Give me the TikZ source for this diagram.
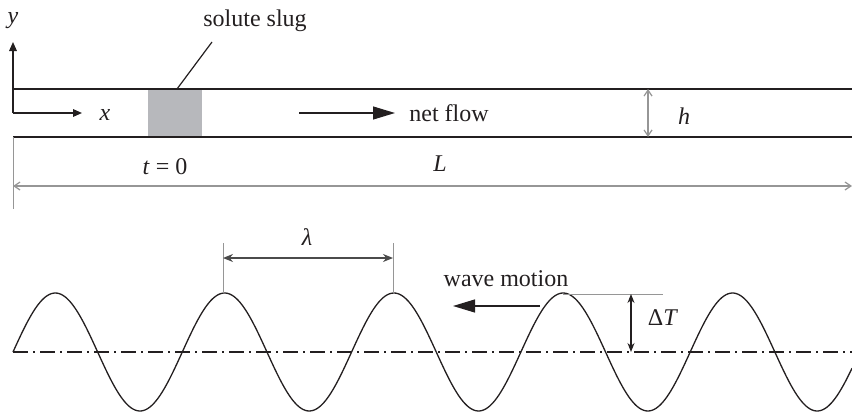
\documentclass[tikz,border=0pt]{standalone}
\usepackage{fontspec}
\setmainfont{Liberation Serif}
\usetikzlibrary{arrows.meta}
\definecolor{dimgray}{RGB}{150,150,150}
\definecolor{darkdim}{RGB}{75,75,75}
\definecolor{sluggray}{RGB}{183,184,188}
\definecolor{ink}{RGB}{35,31,32}
\begin{document}
\begin{tikzpicture}[x=0.5pt,y=-0.5pt,
  lbl/.style={font=\fontsize{12}{14}\selectfont, inner sep=0pt, text=ink},
  wall/.style={line width=1pt, draw=ink},
  axisarrow/.style={line width=0.65pt, draw=ink, -{Triangle[length=4.5pt,width=3.8pt]}},
  bigarrow/.style={line width=0.6pt, draw=ink, -{Triangle[length=11pt,width=6.5pt]}},
  dimline/.style={line width=0.5pt, draw=dimgray},
  dimarrow/.style={line width=0.6pt, draw=dimgray, {Straight Barb[length=3pt,width=4pt]}-{Straight Barb[length=3pt,width=4pt]}},
  lamarrow/.style={line width=0.6pt, draw=darkdim, {Stealth[length=5pt,width=4pt]}-{Stealth[length=5pt,width=4pt]}},
  amparrow/.style={line width=0.6pt, draw=ink, {Stealth[length=4.5pt,width=3.5pt]}-{Stealth[length=4.5pt,width=3.5pt]}},
  wave/.style={line width=0.65pt, draw=ink},
  centreline/.style={line width=0.65pt, draw=ink, dash pattern=on 7.5pt off 2.5pt on 1pt off 2.5pt},
]
\useasboundingbox (0,0) rectangle (852,412);

% ---------- channel ----------
\node[fill=sluggray, minimum width=27pt, minimum height=24pt, inner sep=0pt] (slug) at (175,113) {};
\coordinate (tl) at (13,89);
\coordinate (tr) at (852,89);
\coordinate (bl) at (13,137);
\coordinate (br) at (852,137);
\draw[wall] (tl) -- (tr);
\draw[wall] (bl) -- (br);

% axes
\coordinate (o) at (13,113);
\coordinate (ytip) at (13,42);
\coordinate (xtip) at (82,113);
\draw[axisarrow] (o) -- (ytip);
\draw[axisarrow] (o) -- (xtip);
\node[lbl] (ylab) at (13,21) {\textit{y}};
\node[lbl] (xlab) at (105,115) {\textit{x}};

% solute slug label
\node[lbl] (sluglab) at (255,21) {solute slug};
\coordinate (slugtop) at (177,89);
\coordinate (leadend) at (212,42);
\draw[line width=0.6pt, ink] (slugtop) -- (leadend);

% net flow
\coordinate (nf0) at (299,113);
\coordinate (nf1) at (395,113);
\draw[bigarrow] (nf0) -- (nf1);
\node[lbl] (nflab) at (449,113) {net flow};

% h
\coordinate (h0) at (648,89);
\coordinate (h1) at (648,137);
\draw[dimarrow] (h0) -- (h1);
\node[lbl] (hlab) at (684,116) {\textit{h}};

% t = 0 and L
\node[lbl] (tlab) at (165,167) {\textit{t} = 0};
\node[lbl] (Llab) at (440,164) {\textit{L}};
\coordinate (L0) at (13,186);
\coordinate (L1) at (852,186);
\draw[dimarrow] (L0) -- (L1);
\coordinate (ext0) at (13,137);
\coordinate (ext1) at (13,209);
\draw[dimline] (ext0) -- (ext1);

% ---------- wave ----------
\coordinate (c0) at (13,352);
\coordinate (c1) at (852,352);
\draw[centreline] (c0) -- (c1);
\draw[wave] plot[domain=13:852, samples=400, smooth] (\x, {352-59*sin(2.12640*(\x-13))});

% lambda
\coordinate (la0) at (223,243);
\coordinate (la1) at (223,293);
\coordinate (lb0) at (393,243);
\coordinate (lb1) at (393,293);
\draw[dimline] (la0) -- (la1);
\draw[dimline] (lb0) -- (lb1);
\coordinate (lam0) at (223,258);
\coordinate (lam1) at (393,258);
\draw[lamarrow] (lam0) -- (lam1);
\node[lbl] (lamlab) at (307,237) {\textit{λ}};

% wave motion
\node[lbl] (wmlab) at (506,279) {wave motion};
\coordinate (wm0) at (540,306);
\coordinate (wm1) at (453,306);
\draw[bigarrow] (wm0) -- (wm1);

% Delta T
\coordinate (pk) at (563,294);
\coordinate (pkend) at (663,294);
\draw[dimline] (pk) -- (pkend);
\coordinate (dt0) at (631,294);
\coordinate (dt1) at (631,352);
\draw[amparrow] (dt0) -- (dt1);
\node[lbl] (dtlab) at (663,318) {Δ\textit{T}};
\end{tikzpicture}
\end{document}
